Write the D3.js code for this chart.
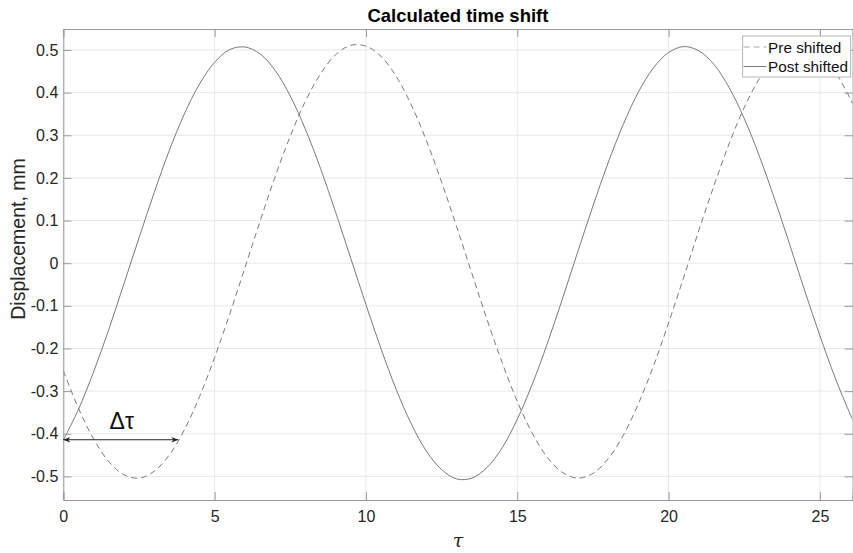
<!DOCTYPE html>
<html>
<head>
<meta charset="utf-8">
<script src="https://cdn.jsdelivr.net/npm/d3@7"></script>
<style>
  body { margin: 0; background: #fff; }
  svg { display: block; font-family: "Liberation Sans", Arial, sans-serif; }
  .grid line { stroke: #e8e8e8; stroke-width: 1; }
  .axis path, .axis line { stroke: #9a9a9a; }
  .axis text { fill: #262626; font-size: 16px; }
</style>
</head>
<body>
<div id="chart"></div>
<script>
// values
var tau = [0, 0.5, 1, 1.5, 2, 2.5, 3, 3.5, 4, 4.5, 5, 5.5, 6, 6.5, 7, 7.5, 8, 8.5, 9, 9.5,
  10, 10.5, 11, 11.5, 12, 12.5, 13, 13.5, 14, 14.5, 15, 15.5, 16, 16.5, 17, 17.5, 18, 18.5, 19, 19.5,
  20, 20.5, 21, 21.5, 22, 22.5, 23, 23.5, 24, 24.5, 25, 25.5, 26, 26.08];

var preShifted = [-0.252, -0.340, -0.412, -0.465, -0.496, -0.504, -0.488, -0.450, -0.391, -0.313,
  -0.221, -0.119, -0.011, 0.098, 0.203, 0.298, 0.380, 0.444, 0.489, 0.511,
  0.509, 0.485, 0.438, 0.371, 0.287, 0.190, 0.085, -0.024, -0.132, -0.233,
  -0.324, -0.399, -0.456, -0.491, -0.504, -0.493, -0.459, -0.404, -0.330, -0.241,
  -0.140, -0.033, 0.077, 0.182, 0.280, 0.365, 0.433, 0.482, 0.508, 0.511,
  0.491, 0.449, 0.386, 0.374];

var postShifted = [-0.415, -0.343, -0.255, -0.156, -0.049, 0.059, 0.165, 0.264, 0.350, 0.420,
  0.471, 0.501, 0.507, 0.491, 0.452, 0.392, 0.314, 0.222, 0.119, 0.011,
  -0.097, -0.201, -0.296, -0.377, -0.441, -0.484, -0.506, -0.504, -0.479, -0.433,
  -0.366, -0.283, -0.187, -0.082, 0.027, 0.134, 0.235, 0.325, 0.401, 0.458,
  0.494, 0.508, 0.498, 0.466, 0.412, 0.339, 0.251, 0.151, 0.044, -0.065,
  -0.170, -0.268, -0.354, -0.366];

var xTicks = [0, 5, 10, 15, 20, 25];
var yTicks = [-0.5, -0.4, -0.3, -0.2, -0.1, 0, 0.1, 0.2, 0.3, 0.4, 0.5];
var seriesNames = ["Pre shifted", "Post shifted"];
var shiftStart = 0, shiftEnd = 3.8, shiftLevel = -0.414;

var W = 853, H = 553;
var margin = {left: 63.3, right: 0.4, top: 29, bottom: 53};
var pw = W - margin.left - margin.right;
var ph = H - margin.top - margin.bottom;

var x = d3.scaleLinear().domain([0, 26.08]).range([0, pw]);
var y = d3.scaleLinear().domain([-0.5553, 0.5492]).range([ph, 0]);

var svg = d3.select("#chart").append("svg")
  .attr("width", W).attr("height", H);

var g = svg.append("g")
  .attr("transform", "translate(" + margin.left + "," + margin.top + ")");

// grid
g.append("g").attr("class", "grid")
  .selectAll("line.v").data(xTicks).enter().append("line")
  .attr("x1", d => x(d)).attr("x2", d => x(d))
  .attr("y1", 0).attr("y2", ph);
g.append("g").attr("class", "grid")
  .selectAll("line.h").data(yTicks).enter().append("line")
  .attr("x1", 0).attr("x2", pw)
  .attr("y1", d => y(d)).attr("y2", d => y(d));

g.append("defs").append("clipPath").attr("id", "clip")
  .append("rect").attr("width", pw).attr("height", ph);

var line = d3.line()
  .x((d, i) => x(tau[i]))
  .y(d => y(d))
  .curve(d3.curveCatmullRom.alpha(0.5));

var plot = g.append("g").attr("clip-path", "url(#clip)");
plot.append("path").datum(preShifted)
  .attr("d", line)
  .attr("fill", "none")
  .attr("stroke", "#7a7a7a")
  .attr("stroke-width", 1)
  .attr("stroke-dasharray", "6,4");
plot.append("path").datum(postShifted)
  .attr("d", line)
  .attr("fill", "none")
  .attr("stroke", "#7a7a7a")
  .attr("stroke-width", 1);

// axes (ticks pointing inward, box on all sides)
var fmt = d => String(d).replace("\u2212", "-");
g.append("g").attr("class", "axis")
  .attr("transform", "translate(0," + ph + ")")
  .call(d3.axisBottom(x).tickValues(xTicks).tickSize(-8).tickPadding(11).tickFormat(fmt));
g.append("g").attr("class", "axis")
  .call(d3.axisTop(x).tickValues(xTicks).tickSize(-8).tickFormat(""));
g.append("g").attr("class", "axis")
  .call(d3.axisLeft(y).tickValues(yTicks).tickSize(-8).tickPadding(5).tickFormat(fmt));
g.append("g").attr("class", "axis")
  .attr("transform", "translate(" + pw + ",0)")
  .call(d3.axisRight(y).tickValues(yTicks).tickSize(-8).tickFormat(""));

// delta tau arrow
var defs = svg.append("defs");
defs.append("marker").attr("id", "ah")
  .attr("viewBox", "0 0 10 10").attr("refX", 10).attr("refY", 5)
  .attr("markerWidth", 9).attr("markerHeight", 7)
  .attr("markerUnits", "userSpaceOnUse")
  .attr("orient", "auto-start-reverse")
  .append("path").attr("d", "M0,1 L10,5 L0,9 L3,5 Z").attr("fill", "#222");

g.append("line")
  .attr("x1", x(shiftStart)).attr("x2", x(shiftEnd))
  .attr("y1", y(shiftLevel)).attr("y2", y(shiftLevel))
  .attr("stroke", "#222").attr("stroke-width", 1)
  .attr("marker-start", "url(#ah)").attr("marker-end", "url(#ah)");
g.append("text")
  .attr("x", x((shiftStart + shiftEnd) / 2) + 1)
  .attr("y", y(shiftLevel) - 11)
  .attr("text-anchor", "middle")
  .attr("font-size", 23)
  .attr("fill", "#111")
  .text("\u0394\u03c4");

// legend
var lg = g.append("g").attr("transform", "translate(" + (pw - 110) + ",7)");
lg.append("rect").attr("width", 108).attr("height", 41)
  .attr("fill", "#fff").attr("stroke", "#b5b5b5").attr("stroke-width", 1);
seriesNames.forEach(function (name, i) {
  var yy = 11 + i * 19.5;
  lg.append("line").attr("x1", 1).attr("x2", 24).attr("y1", yy).attr("y2", yy)
    .attr("stroke", i === 0 ? "#a8a8a8" : "#7a7a7a").attr("stroke-width", 1)
    .attr("stroke-dasharray", i === 0 ? "6,4" : null);
  lg.append("text").attr("x", 25.5).attr("y", yy + 5.5)
    .attr("font-size", 15.3).attr("fill", "#111").text(name);
});

// titles
svg.append("text")
  .attr("x", margin.left + pw / 2).attr("y", 22)
  .attr("text-anchor", "middle")
  .attr("font-size", 18.5).attr("font-weight", "bold").attr("fill", "#000")
  .text("Calculated time shift");

svg.append("text")
  .attr("transform", "translate(25," + 239 + ") rotate(-90)")
  .attr("text-anchor", "middle")
  .attr("font-size", 19.5).attr("fill", "#262626")
  .text("Displacement, mm");

svg.append("text")
  .attr("x", margin.left + pw / 2).attr("y", 547)
  .attr("text-anchor", "middle")
  .attr("font-size", 19).attr("font-style", "italic").attr("fill", "#262626")
  .attr("font-family", "'DejaVu Serif', serif")
  .text("\u03c4");
</script>
</body>
</html>
